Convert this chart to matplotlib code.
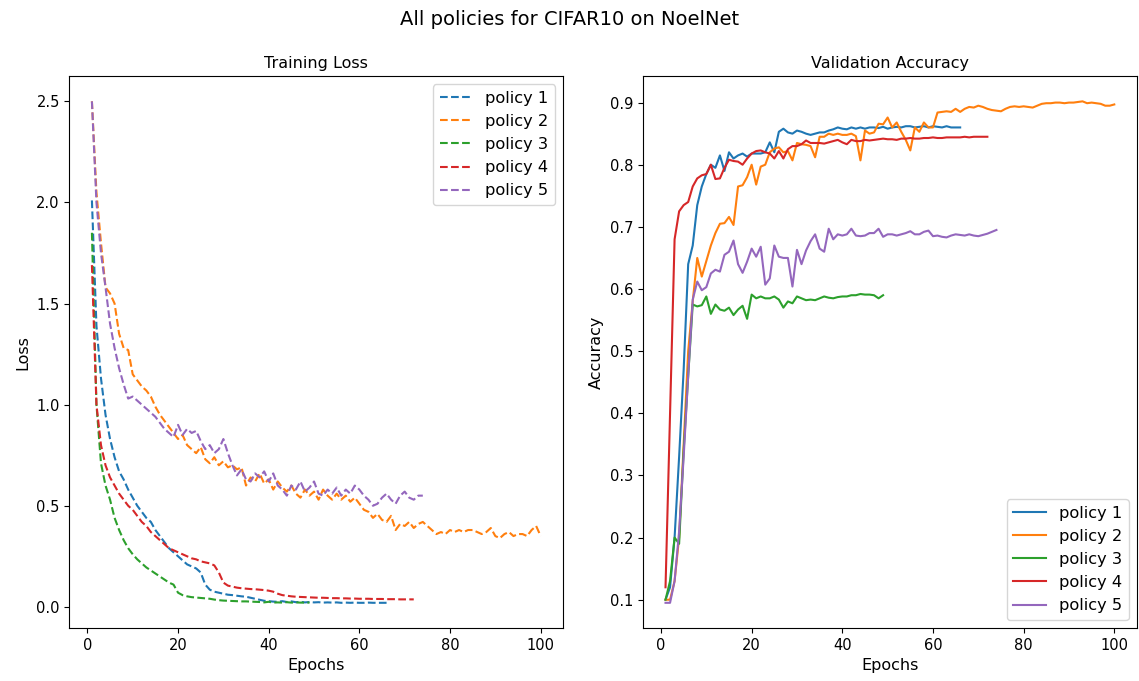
import matplotlib
matplotlib.use("Agg")
import matplotlib.pyplot as plt

# ---------------------------------------------------------------- data ---- #

policy_names = ["policy 1", "policy 2", "policy 3", "policy 4", "policy 5"]

loss_p1 = [2.01, 1.39, 1.13, 0.95, 0.83, 0.74, 0.67, 0.63, 0.58, 0.54,
           0.50, 0.47, 0.44, 0.42, 0.38, 0.35, 0.32, 0.29, 0.27, 0.25,
           0.23, 0.21, 0.20, 0.19, 0.17, 0.11, 0.085, 0.075, 0.07, 0.065,
           0.06, 0.058, 0.055, 0.052, 0.05, 0.045, 0.04, 0.035, 0.03, 0.028,
           0.026, 0.025, 0.028, 0.024, 0.027, 0.023, 0.025, 0.022, 0.024, 0.022,
           0.023, 0.021, 0.022, 0.021, 0.022, 0.02, 0.021, 0.02, 0.021, 0.02,
           0.02, 0.021, 0.02, 0.02, 0.02, 0.02]
loss_p2 = [2.50, 2.05, 1.80, 1.58, 1.55, 1.50, 1.35, 1.28, 1.27, 1.15,
           1.12, 1.09, 1.07, 1.04, 0.99, 0.95, 0.92, 0.89, 0.86, 0.83,
           0.85, 0.80, 0.78, 0.76, 0.79, 0.73, 0.71, 0.74, 0.70, 0.72,
           0.69, 0.70, 0.68, 0.69, 0.60, 0.64, 0.62, 0.66, 0.61, 0.63,
           0.58, 0.62, 0.59, 0.57, 0.60, 0.56, 0.54, 0.58, 0.55, 0.57,
           0.53, 0.58, 0.55, 0.53, 0.56, 0.53, 0.55, 0.52, 0.54, 0.51,
           0.48, 0.47, 0.44, 0.46, 0.43, 0.42, 0.45, 0.38, 0.41, 0.40,
           0.42, 0.39, 0.41, 0.42, 0.40, 0.38, 0.36, 0.37, 0.36, 0.38,
           0.37, 0.38, 0.37, 0.38, 0.38, 0.37, 0.36, 0.37, 0.39, 0.35,
           0.34, 0.36, 0.37, 0.35, 0.36, 0.36, 0.35, 0.38, 0.40, 0.35]
loss_p3 = [1.85, 1.00, 0.71, 0.60, 0.53, 0.44, 0.38, 0.33, 0.29, 0.26,
           0.235, 0.215, 0.195, 0.18, 0.165, 0.15, 0.135, 0.12, 0.11, 0.07,
           0.058, 0.052, 0.048, 0.046, 0.044, 0.042, 0.04, 0.036, 0.033, 0.031,
           0.03, 0.029, 0.028, 0.027, 0.027, 0.026, 0.025, 0.024, 0.022, 0.025,
           0.021, 0.022, 0.021, 0.023, 0.021, 0.022, 0.021, 0.021, 0.021]
loss_p4 = [1.69, 1.00, 0.80, 0.70, 0.64, 0.60, 0.56, 0.53, 0.50, 0.48,
           0.45, 0.42, 0.40, 0.37, 0.35, 0.33, 0.31, 0.29, 0.28, 0.27,
           0.26, 0.25, 0.24, 0.235, 0.225, 0.22, 0.215, 0.205, 0.17, 0.12,
           0.105, 0.10, 0.095, 0.092, 0.09, 0.088, 0.087, 0.085, 0.083, 0.08,
           0.075, 0.065, 0.058, 0.055, 0.052, 0.05, 0.049, 0.048, 0.047, 0.046,
           0.045, 0.045, 0.044, 0.043, 0.043, 0.042, 0.042, 0.041, 0.041, 0.04,
           0.04, 0.04, 0.039, 0.039, 0.039, 0.038, 0.038, 0.038, 0.037, 0.037,
           0.037, 0.037]
loss_p5 = [2.50, 2.00, 1.75, 1.58, 1.40, 1.28, 1.18, 1.10, 1.03, 1.04,
           1.02, 1.00, 0.98, 0.96, 0.94, 0.91, 0.88, 0.86, 0.84, 0.90,
           0.85, 0.88, 0.86, 0.87, 0.82, 0.78, 0.80, 0.76, 0.78, 0.83,
           0.76, 0.70, 0.65, 0.68, 0.63, 0.62, 0.66, 0.64, 0.67, 0.62,
           0.66, 0.60, 0.58, 0.55, 0.60, 0.58, 0.62, 0.57, 0.59, 0.62,
           0.56, 0.55, 0.58, 0.56, 0.59, 0.55, 0.58, 0.56, 0.60, 0.58,
           0.55, 0.53, 0.50, 0.51, 0.54, 0.56, 0.53, 0.51, 0.55, 0.57,
           0.54, 0.53, 0.55, 0.55]

acc_p1 = [0.10, 0.12, 0.20, 0.33, 0.47, 0.64, 0.67, 0.735, 0.765, 0.785,
          0.80, 0.795, 0.815, 0.79, 0.82, 0.81, 0.815, 0.818, 0.813, 0.818,
          0.818, 0.818, 0.82, 0.836, 0.82, 0.853, 0.858, 0.852, 0.85, 0.855,
          0.853, 0.85, 0.848, 0.85, 0.852, 0.852, 0.855, 0.857, 0.86, 0.858,
          0.857, 0.86, 0.858, 0.86, 0.858, 0.86, 0.86, 0.859, 0.861, 0.858,
          0.86, 0.861, 0.86, 0.862, 0.862, 0.86, 0.861, 0.862, 0.86, 0.862,
          0.861, 0.86, 0.862, 0.86, 0.86, 0.86]
acc_p2 = [0.10, 0.10, 0.13, 0.20, 0.35, 0.50, 0.58, 0.65, 0.62, 0.645,
          0.67, 0.69, 0.705, 0.706, 0.716, 0.703, 0.765, 0.767, 0.78, 0.80,
          0.768, 0.797, 0.80, 0.82, 0.826, 0.828, 0.82, 0.822, 0.807, 0.835,
          0.833, 0.832, 0.83, 0.812, 0.845, 0.845, 0.85, 0.848, 0.85, 0.848,
          0.848, 0.85, 0.846, 0.807, 0.855, 0.85, 0.852, 0.866, 0.865, 0.876,
          0.86, 0.868, 0.853, 0.84, 0.823, 0.86, 0.853, 0.868, 0.86, 0.86,
          0.884, 0.885, 0.886, 0.885, 0.89, 0.885, 0.89, 0.893, 0.892, 0.895,
          0.893, 0.89, 0.888, 0.887, 0.886, 0.89, 0.893, 0.894, 0.893, 0.894,
          0.893, 0.892, 0.895, 0.898, 0.899, 0.899, 0.90, 0.90, 0.899, 0.90,
          0.90, 0.901, 0.902, 0.899, 0.90, 0.899, 0.898, 0.895, 0.895, 0.897]
acc_p3 = [0.10, 0.13, 0.20, 0.19, 0.34, 0.46, 0.575, 0.572, 0.574, 0.588,
          0.56, 0.575, 0.567, 0.565, 0.57, 0.558, 0.567, 0.573, 0.552, 0.591,
          0.585, 0.588, 0.585, 0.585, 0.588, 0.583, 0.57, 0.58, 0.577, 0.588,
          0.585, 0.582, 0.583, 0.582, 0.585, 0.588, 0.586, 0.585, 0.587, 0.588,
          0.588, 0.59, 0.59, 0.592, 0.591, 0.591, 0.59, 0.585, 0.59]
acc_p4 = [0.12, 0.40, 0.68, 0.725, 0.735, 0.74, 0.765, 0.778, 0.783, 0.785,
          0.80, 0.777, 0.778, 0.795, 0.808, 0.806, 0.805, 0.80, 0.81, 0.818,
          0.822, 0.823, 0.82, 0.818, 0.81, 0.822, 0.81, 0.825, 0.83, 0.83,
          0.833, 0.839, 0.835, 0.835, 0.835, 0.834, 0.836, 0.838, 0.84, 0.836,
          0.833, 0.84, 0.838, 0.838, 0.84, 0.839, 0.84, 0.841, 0.842, 0.841,
          0.841, 0.84, 0.842, 0.842, 0.843, 0.842, 0.842, 0.843, 0.843, 0.844,
          0.843, 0.843, 0.844, 0.844, 0.844, 0.844, 0.845, 0.844, 0.845, 0.845,
          0.845, 0.845]
acc_p5 = [0.095, 0.095, 0.13, 0.21, 0.33, 0.46, 0.583, 0.612, 0.598, 0.603,
          0.625, 0.631, 0.628, 0.655, 0.66, 0.678, 0.64, 0.626, 0.644, 0.665,
          0.652, 0.668, 0.607, 0.617, 0.67, 0.652, 0.65, 0.65, 0.604, 0.663,
          0.64, 0.662, 0.677, 0.688, 0.665, 0.66, 0.697, 0.68, 0.688, 0.686,
          0.688, 0.697, 0.686, 0.685, 0.686, 0.69, 0.69, 0.697, 0.684, 0.688,
          0.688, 0.686, 0.688, 0.69, 0.693, 0.688, 0.688, 0.692, 0.694, 0.685,
          0.686, 0.684, 0.683, 0.686, 0.688, 0.687, 0.686, 0.688, 0.686, 0.685,
          0.687, 0.689, 0.692, 0.695]

train_losses = [loss_p1, loss_p2, loss_p3, loss_p4, loss_p5]
val_accs = [acc_p1, acc_p2, acc_p3, acc_p4, acc_p5]

# ---------------------------------------------------------------- plot ---- #

fig, (ax_loss, ax_acc) = plt.subplots(1, 2, figsize=(11.39, 6.81), dpi=100)
fig.subplots_adjust(left=0.061, right=0.998, bottom=0.078, top=0.888, wspace=0.162)
fig.suptitle('All policies for CIFAR10 on NoelNet', fontsize=14, y=0.985)

# Training loss, dashed
for name, loss in zip(policy_names, train_losses):
    epochs = range(1, len(loss) + 1)
    ax_loss.plot(epochs, loss, '--', label=name)
ax_loss.set_title('Training Loss', fontsize=11.5)
ax_loss.set_xlabel('Epochs', fontsize=11.5)
ax_loss.set_ylabel('Loss', fontsize=11.5)
ax_loss.tick_params(labelsize=10.5)
ax_loss.legend(loc='upper right', fontsize=11.7)

# Validation accuracy, solid
for name, acc in zip(policy_names, val_accs):
    epochs = range(1, len(acc) + 1)
    ax_acc.plot(epochs, acc, label=name)
ax_acc.set_title('Validation Accuracy', fontsize=11.5)
ax_acc.set_xlabel('Epochs', fontsize=11.5)
ax_acc.set_ylabel('Accuracy', fontsize=11.5)
ax_acc.tick_params(labelsize=10.5)
ax_acc.legend(loc='lower right', fontsize=11.7)

fig.savefig('out.png', dpi=100)
